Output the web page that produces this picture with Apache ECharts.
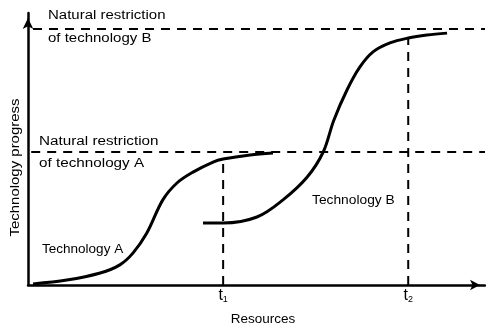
<!DOCTYPE html>
<html><head><meta charset="utf-8">
<script src="https://cdn.jsdelivr.net/npm/echarts@6/dist/echarts.min.js"></script>
<style>html,body{margin:0;padding:0;background:#fff}#c{width:486px;height:327px}</style>
</head><body><div id="c"></div>
<script>
// Technology A S-curve
const techAx = [1.1, 8.5, 15.8, 20.1, 23.0, 26.0, 29.5, 32.6, 36.1, 40.5, 42.7, 48.6, 53.6];
const techAy = [0.4, 1.8, 4.4, 7.4, 11.8, 19.1, 31.3, 37.5, 41.5, 45.2, 46.3, 47.8, 48.5];
// Technology B S-curve
const techBx = [38.3, 42.7, 50.1, 55.8, 61.1, 64.6, 66.9, 69.8, 72.6, 75.5, 79.2, 83.2, 87.3, 91.7];
const techBy = [22.8, 22.8, 25.0, 31.3, 39.7, 48.9, 60.5, 71.7, 80.1, 85.7, 89.0, 90.8, 91.9, 92.6];
// natural restrictions (y levels)
const limitA = 48.9;
const limitB = 94.1;
const limitStart = [0.7, 1.1];
// moments t1, t2 (x) and heights reached
const tValues = [42.7, 83.2];
const tTops = [46.3, 90.8];
const tSubs = ['1', '2'];
const xName = 'Resources';
const yName = 'Technology progress';
const textLabels = ['Natural restriction', 'of technology B', 'Natural restriction', 'of technology A', 'Technology A', 'Technology B'];

const FONT = "'Liberation Sans', Arial, sans-serif";
const zip = (xs, ys) => xs.map((x, i) => [x, ys[i]]);
const dash = { color: '#000', width: 2, type: [9, 7] };

const chart = echarts.init(document.getElementById('c'), null, { renderer: 'canvas' });

const curve = (xs, ys) => ({ type: 'line', data: zip(xs, ys), symbol: 'none', smooth: 0.35, lineStyle: { color: '#000', width: 3 }, z: 5, silent: true });

const series = [
  { type: 'line', data: [[limitStart[1], limitB], [100, limitB]], symbol: 'none', lineStyle: dash, z: 2, silent: true },
  { type: 'line', data: [[limitStart[0], limitA], [100, limitA]], symbol: 'none', lineStyle: dash, z: 2, silent: true },
  { type: 'line', data: [[tValues[0], 0], [tValues[0], tTops[0]]], symbol: 'none', lineStyle: dash, z: 2, silent: true },
  { type: 'line', data: [[tValues[1], 0], [tValues[1], tTops[1]]], symbol: 'none', lineStyle: dash, z: 2, silent: true },
  curve(techAx, techAy),
  curve(techBx, techBy)
];

const txt = (text, x, y, size, sx) => ({
  type: 'text', x: x, y: y, scaleX: sx || 1, z: 10,
  style: { text: text, fontFamily: FONT, fontSize: size, fill: '#000', align: 'left', verticalAlign: 'middle' }
});

chart.setOption({
  animation: false,
  backgroundColor: '#fff',
  grid: { left: 28, right: 1, top: 13, bottom: 42, outerBoundsMode: 'none', containLabel: false },
  xAxis: {
    type: 'value', min: 0, max: 100,
    axisLine: { show: true, onZero: false, symbol: ['none', 'arrow'], symbolSize: [8, 10], symbolOffset: [0, -5], lineStyle: { color: '#000', width: 2.5 } },
    axisTick: { show: false },
    splitLine: { show: false },
    axisLabel: {
      customValues: tValues, margin: 2, color: '#000',
      formatter: function (v) { return '{t|t}{s|' + tSubs[tValues.indexOf(v)] + '}'; },
      rich: {
        t: { fontFamily: FONT, fontSize: 16, color: '#000' },
        s: { fontFamily: FONT, fontSize: 9, color: '#000', padding: [8, 0, 0, 0] }
      }
    },
    name: xName, nameLocation: 'middle', nameGap: 27,
    nameTextStyle: { fontFamily: FONT, fontSize: 13.5, color: '#000', padding: [0, 0, 0, 13] }
  },
  yAxis: {
    type: 'value', min: 0, max: 100,
    axisLine: { show: true, onZero: false, symbol: ['none', 'arrow'], symbolSize: [8, 11], symbolOffset: [0, -5], lineStyle: { color: '#000', width: 2.5 } },
    axisTick: { show: false }, axisLabel: { show: false }, splitLine: { show: false }
  },
  graphic: [
    txt(textLabels[0], 48, 16, 12.5, 1.2),
    txt(textLabels[1], 48, 38.5, 12.5, 1.2),
    txt(textLabels[2], 39, 142, 12.5, 1.22),
    txt(textLabels[3], 39, 163.5, 12.5, 1.22),
    txt(textLabels[4], 42, 249, 13, 1.04),
    txt(textLabels[5], 312, 200.5, 13, 1.06),
    {
      type: 'text', x: 15, y: 167.5, rotation: Math.PI / 2, scaleX: 1.15, z: 10,
      style: { text: yName, fontFamily: FONT, fontSize: 13, fill: '#000', align: 'center', verticalAlign: 'middle' }
    }
  ],
  series: series
});
</script></body></html>
